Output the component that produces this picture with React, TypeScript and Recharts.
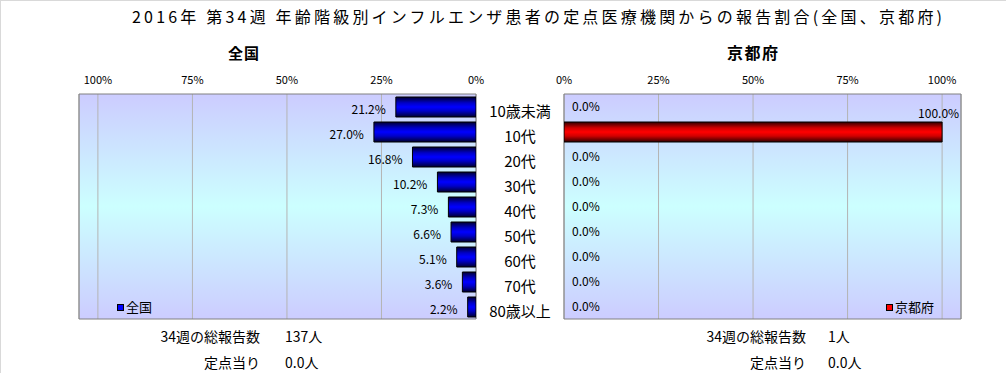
import React from 'react';
import { BarChart, Bar, XAxis, YAxis, CartesianGrid, LabelList, ReferenceArea, Legend } from 'recharts';

const categories = ['10歳未満', '10代', '20代', '30代', '40代', '50代', '60代', '70代', '80歳以上'];
const nationalValues = [21.2, 27.0, 16.8, 10.2, 7.3, 6.6, 5.1, 3.6, 2.2];
const kyotoValues = [0, 100, 0, 0, 0, 0, 0, 0, 0];
const percentTicks = [0, 25, 50, 75, 100];
const percentDomain = [0, 105];
const titleText = '2016年 第34週 年齢階級別インフルエンザ患者の定点医療機関からの報告割合(全国、京都府)';
const nationalName = '全国';
const kyotoName = '京都府';
const totalLabel = '34週の総報告数';
const perLabel = '定点当り';
const nationalTotal = '137人';
const nationalPer = '0.0人';
const kyotoTotal = '1人';
const kyotoPer = '0.0人';

const data = categories.map((c, i) => ({ category: c, national: nationalValues[i], kyoto: kyotoValues[i] }));

const FONT = '"Noto Sans CJK JP", "Noto Sans", sans-serif';
const W = 1006;
const H = 373;

const fmt = (v: number) => `${v.toFixed(1)}%`;

const NationalLabel = (props: any) => {
  const { x, y, width, height, value } = props;
  const left = Math.min(x, x + width);
  return (
    <text x={left - 10} y={y + height / 2 + 1} textAnchor="end" dominantBaseline="central" fontSize={12} fontFamily={FONT} fill="#000">
      {fmt(value)}
    </text>
  );
};

const KyotoLabel = (props: any) => {
  const { x, y, width, value } = props;
  if (!value || !isFinite(x) || !isFinite(width)) return null;
  return (
    <text x={x + width + 17} y={y - 10} textAnchor="end" dominantBaseline="central" fontSize={12} fontFamily={FONT} fill="#000">
      {fmt(value)}
    </text>
  );
};

// Category labels between the two charts; zero-valued Kyoto labels are drawn at the start of the plot.
const CategoryTick = (props: any) => {
  const { x, y, payload } = props;
  const row = data.find((d) => d.category === payload.value);
  const showZero = row && row.kyoto === 0;
  return (
    <g>
      <text x={x - 44} y={y + 4} textAnchor="middle" dominantBaseline="central" fontSize={15} fontFamily={FONT} fill="#000">
        {payload.value}
      </text>
      {showZero ? (
        <text x={x + 8} y={y - 1.5} textAnchor="start" dominantBaseline="central" fontSize={12} fontFamily={FONT} fill="#000">
          {fmt(row!.kyoto)}
        </text>
      ) : null}
    </g>
  );
};

const legendContent = (color: string, name: string) => () => (
  <div style={{ display: 'flex', alignItems: 'center', fontFamily: FONT, fontSize: 13, lineHeight: '14px', color: '#000' }}>
    <span style={{ display: 'inline-block', width: 5, height: 5, background: color, border: '1px solid #000', marginRight: 2 }} />
    <span>{name}</span>
  </div>
);

const tickStyle = { fontSize: 11, fill: '#000', fontFamily: FONT };

export default function App() {
  return (
    <div style={{ position: 'absolute', left: 0, top: 0, width: W, height: H, background: '#fff', overflow: 'hidden' }}>
      <svg width={0} height={0} style={{ position: 'absolute' }}>
        <defs>
          <linearGradient id="plotBg" x1="0" y1="0" x2="0" y2="1">
            <stop offset="0" stopColor="#ccccff" />
            <stop offset="0.5" stopColor="#ccffff" />
            <stop offset="1" stopColor="#ccccff" />
          </linearGradient>
          <linearGradient id="blueBar" x1="0" y1="0" x2="0" y2="1">
            <stop offset="0" stopColor="#000030" />
            <stop offset="0.3" stopColor="#0000c8" />
            <stop offset="0.5" stopColor="#0000ff" />
            <stop offset="0.7" stopColor="#0000c8" />
            <stop offset="1" stopColor="#000030" />
          </linearGradient>
          <linearGradient id="redBar" x1="0" y1="0" x2="0" y2="1">
            <stop offset="0" stopColor="#300000" />
            <stop offset="0.3" stopColor="#d00000" />
            <stop offset="0.5" stopColor="#ff0000" />
            <stop offset="0.7" stopColor="#d00000" />
            <stop offset="1" stopColor="#300000" />
          </linearGradient>
        </defs>
      </svg>

      <div style={{ position: 'absolute', left: 0, top: 0 }}>
        <BarChart width={500} height={H} data={data} layout="vertical" margin={{ top: 74, right: 24, bottom: 54, left: 79 }}>
          <CartesianGrid horizontal={false} vertical stroke="#b4b4b4" fill="url(#plotBg)" />
          <XAxis
            type="number"
            domain={percentDomain}
            ticks={percentTicks}
            interval={0}
            allowDataOverflow
            reversed
            orientation="top"
            height={20}
            axisLine={false}
            tickLine={false}
            tickSize={0}
            tickMargin={10}
            tickFormatter={(v: number) => `${v}%`}
            tick={tickStyle}
          />
          <YAxis type="category" dataKey="category" hide />
          <ReferenceArea x1={0} x2={105} fill="none" stroke="#808080" strokeWidth={1} ifOverflow="visible" />
          <Bar dataKey="national" name={nationalName} fill="url(#blueBar)" stroke="#000" strokeWidth={1} barSize={20} isAnimationActive={false}>
            <LabelList dataKey="national" content={NationalLabel} />
          </Bar>
          <Legend
            layout="vertical"
            align="center"
            verticalAlign="middle"
            content={legendContent('#0000ff', nationalName)}
            wrapperStyle={{ position: 'absolute', left: 117, top: 300, width: 'auto', height: 'auto' }}
          />
        </BarChart>
      </div>

      <div style={{ position: 'absolute', left: 480, top: 0 }}>
        <BarChart width={526} height={H} data={data} layout="vertical" margin={{ top: 74, right: 45, bottom: 54, left: 0 }}>
          <CartesianGrid horizontal={false} vertical stroke="#b4b4b4" fill="url(#plotBg)" />
          <XAxis
            type="number"
            domain={percentDomain}
            ticks={percentTicks}
            interval={0}
            allowDataOverflow
            orientation="top"
            height={20}
            axisLine={false}
            tickLine={false}
            tickSize={0}
            tickMargin={10}
            tickFormatter={(v: number) => `${v}%`}
            tick={tickStyle}
          />
          <YAxis type="category" dataKey="category" width={84} axisLine={false} tickLine={false} tickSize={0} tickMargin={0} tick={CategoryTick} interval={0} />
          <ReferenceArea x1={0} x2={105} fill="none" stroke="#808080" strokeWidth={1} ifOverflow="visible" />
          <Bar dataKey="kyoto" name={kyotoName} fill="url(#redBar)" stroke="#000" strokeWidth={1} barSize={20} isAnimationActive={false}>
            <LabelList dataKey="kyoto" content={KyotoLabel} />
          </Bar>
          <Legend
            layout="vertical"
            align="center"
            verticalAlign="middle"
            content={legendContent('#ff0000', kyotoName)}
            wrapperStyle={{ position: 'absolute', left: 406, top: 300, width: 'auto', height: 'auto' }}
          />
        </BarChart>
      </div>

      <svg width={W} height={H} style={{ position: 'absolute', left: 0, top: 0, pointerEvents: 'none' }}>
        <line x1={0} y1={0.5} x2={W} y2={0.5} stroke="#d9d9d9" />
        <line x1={0.5} y1={0} x2={0.5} y2={H} stroke="#d9d9d9" />
        <text x={132} y={16} textLength={810} lengthAdjust="spacing" fontSize={16} fontFamily={FONT} dominantBaseline="central" fill="#000">
          {titleText}
        </text>
        <text x={228} y={52} textLength={31} lengthAdjust="spacing" fontSize={15} fontWeight="bold" fontFamily={FONT} dominantBaseline="central" fill="#000">
          {nationalName}
        </text>
        <text x={727} y={52} textLength={51} lengthAdjust="spacing" fontSize={16} fontWeight="bold" fontFamily={FONT} dominantBaseline="central" fill="#000">
          {kyotoName}
        </text>

        <text x={260} y={336} textAnchor="end" fontSize={14} fontFamily={FONT} dominantBaseline="central" fill="#000">{totalLabel}</text>
        <text x={285} y={336} fontSize={14} fontFamily={FONT} dominantBaseline="central" fill="#000">{nationalTotal}</text>
        <text x={260} y={362} textAnchor="end" fontSize={14} fontFamily={FONT} dominantBaseline="central" fill="#000">{perLabel}</text>
        <text x={285} y={362} fontSize={14} fontFamily={FONT} dominantBaseline="central" fill="#000">{nationalPer}</text>

        <text x={806} y={336} textAnchor="end" fontSize={14} fontFamily={FONT} dominantBaseline="central" fill="#000">{totalLabel}</text>
        <text x={828} y={336} fontSize={14} fontFamily={FONT} dominantBaseline="central" fill="#000">{kyotoTotal}</text>
        <text x={806} y={362} textAnchor="end" fontSize={14} fontFamily={FONT} dominantBaseline="central" fill="#000">{perLabel}</text>
        <text x={828} y={362} fontSize={14} fontFamily={FONT} dominantBaseline="central" fill="#000">{kyotoPer}</text>
      </svg>
    </div>
  );
}
